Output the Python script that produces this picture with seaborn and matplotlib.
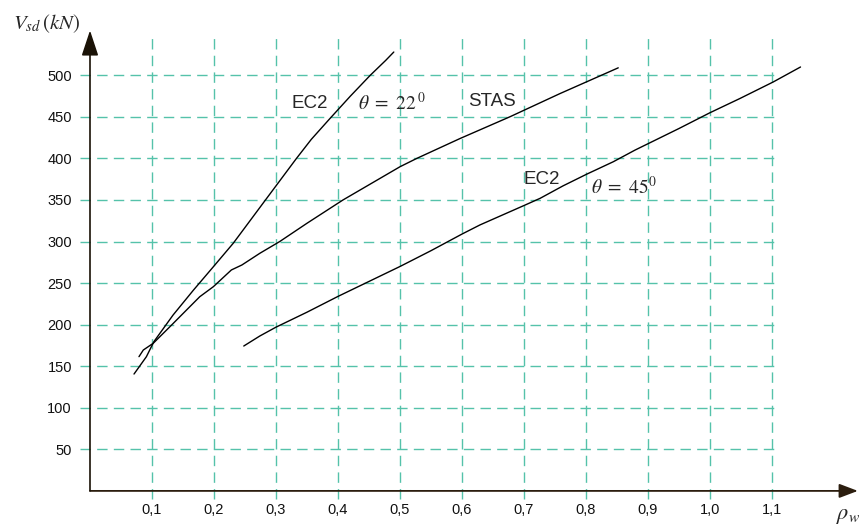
import matplotlib
matplotlib.use("Agg")
import matplotlib.pyplot as plt
import seaborn as sns
import pandas as pd

# ---- data ----
ec2_22_x = [0.071, 0.091, 0.103, 0.134, 0.167, 0.199, 0.231, 0.247, 0.283, 0.333, 0.357, 0.387, 0.420, 0.452, 0.477, 0.490]
ec2_22_y = [140.6, 161.5, 179.5, 211.6, 241.7, 269.7, 297.9, 313.9, 350, 400, 423, 448, 475, 500, 518, 528]

stas_x = [0.079, 0.086, 0.102, 0.129, 0.177, 0.199, 0.228, 0.245, 0.274, 0.306, 0.350, 0.408, 0.500, 0.527, 0.597, 0.677, 0.758, 0.852]
stas_y = [161.5, 169.5, 177.6, 197.6, 233.6, 245.7, 265.8, 271.8, 285.9, 300, 322, 350, 390, 400, 424, 450, 478, 509]

ec2_45_x = [0.248, 0.274, 0.300, 0.350, 0.400, 0.450, 0.500, 0.550, 0.600, 0.629, 0.702, 0.726, 0.763, 0.801, 0.844, 0.879, 0.950, 1.000, 1.048, 1.102, 1.146]
ec2_45_y = [174.3, 186.4, 197, 215, 234, 252, 270, 289, 309, 320, 344, 352, 367, 381, 396, 410, 436, 455, 472, 492, 510]

x_ticks = [0.1, 0.2, 0.3, 0.4, 0.5, 0.6, 0.7, 0.8, 0.9, 1.0, 1.1]
x_tick_labels = ["0,1", "0,2", "0,3", "0,4", "0,5", "0,6", "0,7", "0,8", "0,9", "1,0", "1,1"]
y_ticks = [50, 100, 150, 200, 250, 300, 350, 400, 450, 500]
y_tick_labels = [str(v) for v in y_ticks]

frames = []
for name, xs, ys in [("EC2 22", ec2_22_x, ec2_22_y), ("STAS", stas_x, stas_y), ("EC2 45", ec2_45_x, ec2_45_y)]:
    frames.append(pd.DataFrame({"rho": xs, "V": ys, "curve": name}))
df = pd.concat(frames, ignore_index=True)

# ---- style ----
sns.set_theme(style="white")
plt.rcParams["font.family"] = ["Liberation Sans", "DejaVu Sans"]
plt.rcParams["mathtext.fontset"] = "stix"
plt.rcParams["lines.scale_dashes"] = False

fig = plt.figure(figsize=(8.6, 5.26), dpi=100)
ax = fig.add_axes([0, 0, 1, 1])
ax.set_xlim(-0.14516, 1.24194)
ax.set_ylim(-42.23, 590.6)
ax.set_facecolor("white")

grid_c = "#55c2aa"
dash = (0, (7.5, 4.5))
ax.hlines(y_ticks, -0.016, 1.113, colors=grid_c, linewidth=1.0, linestyles=dash, zorder=1)
ax.vlines(x_ticks, -10, 545, colors=grid_c, linewidth=1.0, linestyles=dash, zorder=1)

sns.lineplot(data=df, x="rho", y="V", units="curve", estimator=None, sort=False,
             color="black", linewidth=1.0, ax=ax, zorder=3)

# axes with arrows
for sp in ax.spines.values():
    sp.set_visible(False)
ax.spines["bottom"].set_position(("data", 0))
ax.spines["left"].set_position(("data", 0))
ax.annotate("", xy=(1.2385, 0), xytext=(0, 0),
            arrowprops=dict(arrowstyle="-|>,head_length=0.95,head_width=0.36",
                            color="#2b1d0e", lw=1.3, shrinkA=0, shrinkB=0), zorder=4)
ax.annotate("", xy=(0, 554), xytext=(0, 0),
            arrowprops=dict(arrowstyle="-|>,head_length=1.3,head_width=0.43",
                            color="#1a1206", lw=1.2, shrinkA=0, shrinkB=0), zorder=4)

ax.set_xticks(x_ticks)
ax.set_xticklabels(x_tick_labels)
ax.set_yticks(y_ticks)
ax.set_yticklabels(y_tick_labels)
ax.tick_params(axis="x", length=0, pad=8.5, labelsize=10.5, colors="#111111")
ax.tick_params(axis="y", length=0, pad=13, labelsize=10.5, colors="#111111")
ax.set_xlabel("")
ax.set_ylabel("")

# annotations
ax.text(0.355, 466, "EC2", fontsize=13.5, ha="center", va="center")
ax.text(0.432, 467, r"$\theta\ =\ 22^{\,0}$", fontsize=14, ha="left", va="center")
ax.text(0.648, 469, "STAS", fontsize=13.5, ha="center", va="center")
ax.text(0.728, 375, "EC2", fontsize=13.5, ha="center", va="center")
ax.text(0.808, 365, r"$\theta\ =\ 45^{0}$", fontsize=14, ha="left", va="center")

fig.text(13 / 860, 1 - 24 / 526, r"$V_{sd}\,(kN)$", fontsize=15, ha="left", va="center")
fig.text(836 / 860, 1 - 519 / 526, r"$\rho_{w}$", fontsize=16, ha="left", va="baseline")

fig.savefig("out.png", dpi=100, facecolor="white")
